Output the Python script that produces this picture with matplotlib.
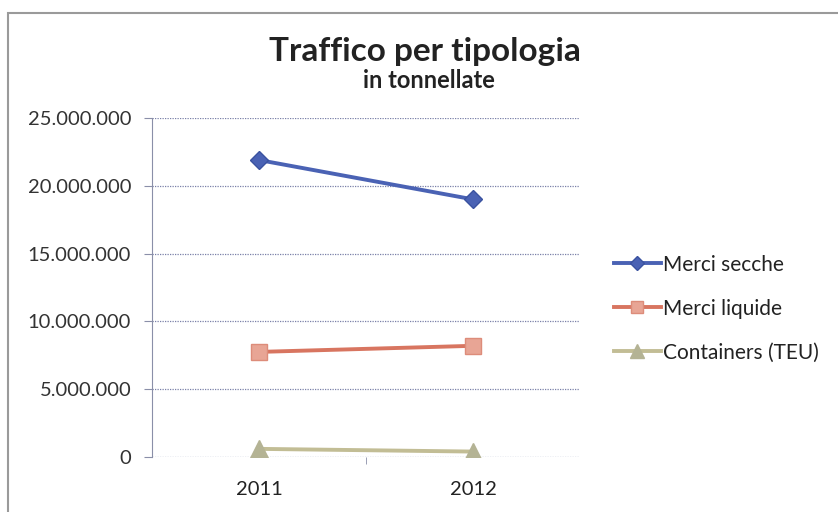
import matplotlib
matplotlib.use("Agg")
import matplotlib.pyplot as plt
from matplotlib.patches import Rectangle

years = ["2011", "2012"]
merci_secche = [21900000, 19000000]
merci_liquide = [7750000, 8200000]
containers = [600000, 400000]
yticks = [0, 5000000, 10000000, 15000000, 20000000, 25000000]
ytick_labels = ["0", "5.000.000", "10.000.000", "15.000.000", "20.000.000", "25.000.000"]

plt.rcParams['font.family'] = ['Lato', 'DejaVu Sans']

fig = plt.figure(figsize=(8.38, 5.12), dpi=100)
fig.patches.append(Rectangle((8/838, -0.1), 1.0, 1.1 - 13/512, transform=fig.transFigure,
                             fill=False, edgecolor="#9a9a9a", linewidth=1.5))
ax = fig.add_axes([152/838, 1-457/512, 428/838, 339/512])

x = list(range(len(years)))
ax.plot(x, merci_secche, color="#4a62b4", lw=2.8, marker="D", ms=9,
        markerfacecolor="#4a62b4", markeredgecolor="#3a52a0", label="Merci secche")
ax.plot(x, merci_liquide, color="#d87560", lw=2.8, marker="s", ms=12,
        markerfacecolor="#e8a595", markeredgecolor="#dd8c7a", label="Merci liquide")
ax.plot(x, containers, color="#c2bd95", lw=2.8, marker="^", ms=13,
        markerfacecolor="#b4b394", markeredgecolor="#b4b394", label="Containers (TEU)")

ax.set_xlim(-0.5, 1.5)
ax.set_ylim(0, 25000000)
ax.set_yticks(yticks)
ax.set_yticklabels(ytick_labels, fontsize=14.5, color="#333333")
ax.set_xticks(x)
ax.set_xticklabels(years, fontsize=14.5, color="#222222")
ax.set_xticks([0.5], minor=True)
ax.tick_params(axis="x", which="major", length=0, pad=17)
ax.tick_params(axis="x", which="minor", length=5, direction="out", color="#8a8fa8")
ax.tick_params(axis="y", length=6, direction="out", color="#8a8fa8", pad=9)
ax.grid(axis="y", linestyle=(0, (1, 1)), color="#7a80a8", linewidth=0.9)
for s in ["top", "right", "bottom"]:
    ax.spines[s].set_visible(False)
ax.spines["left"].set_color("#8a8fa8")
ax.set_axisbelow(True)

fig.text(425/838, 1-51/512, "Traffico per tipologia", ha="center", va="center",
         fontsize=24, fontweight="bold", color="#222222")
fig.text(429/838, 1-80/512, "in tonnellate", ha="center", va="center",
         fontsize=17, fontweight="bold", color="#222222")

fig.legend(loc="upper left", bbox_to_anchor=(595/838, 1-236/512), frameon=False,
           fontsize=15, handlelength=2.25, handletextpad=0.1, labelspacing=1.15,
           markerscale=0.75, labelcolor="#222222")

fig.savefig("out.png", dpi=100)
